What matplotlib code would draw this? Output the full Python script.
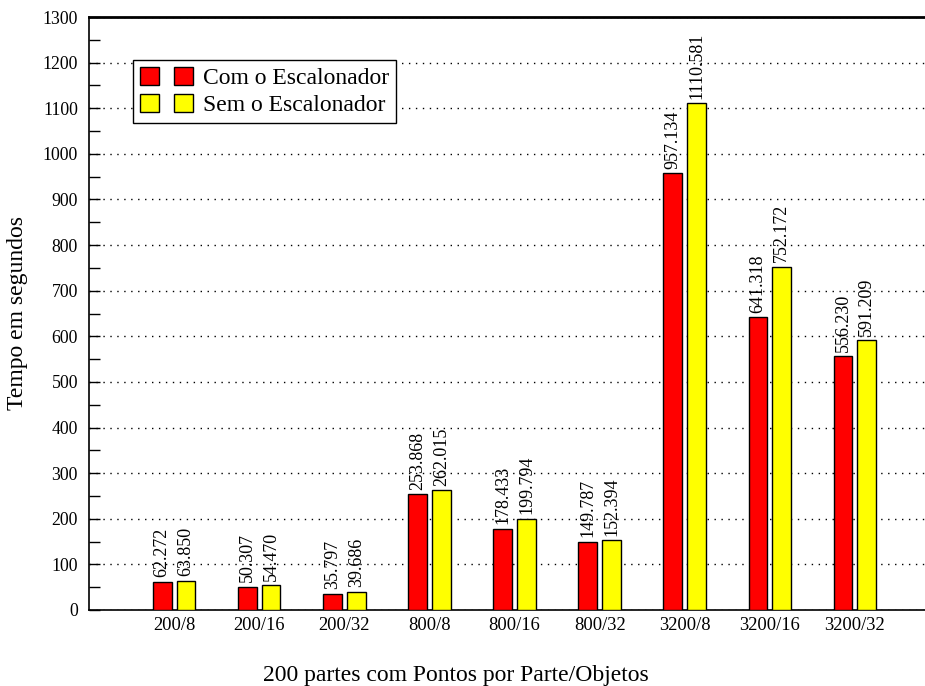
import numpy as np
import matplotlib.pyplot as plt
from matplotlib.patches import Patch
from matplotlib.legend_handler import HandlerTuple

plt.rcParams['font.family'] = ['Liberation Serif', 'DejaVu Serif']

# === Data ===
categorias = ["200/8", "200/16", "200/32", "800/8", "800/16", "800/32",
              "3200/8", "3200/16", "3200/32"]
com_escalonador = [62.272, 50.307, 35.797, 253.868, 178.433, 149.787,
                   957.134, 641.318, 556.230]
sem_escalonador = [63.850, 54.470, 39.686, 262.015, 199.794, 152.394,
                   1110.581, 752.172, 591.209]

# === Figure ===
fig = plt.figure(figsize=(9.25, 6.86), dpi=100)
# axes runs slightly past the right edge of the image
ax = fig.add_axes([89 / 925, (686 - 610) / 686, (940 - 89) / 925, (610 - 17) / 686])

x = np.arange(1, len(categorias) + 1)
w = 0.22
ax.bar(x - 0.14, com_escalonador, w, color="red", edgecolor="black", linewidth=1, zorder=3)
ax.bar(x + 0.14, sem_escalonador, w, color="yellow", edgecolor="black", linewidth=1, zorder=3)

for xi, a, b in zip(x, com_escalonador, sem_escalonador):
    ax.text(xi - 0.14, a + 10, f"{a:.3f}", rotation=90, ha="center", va="bottom", fontsize=13)
    ax.text(xi + 0.14, b + 10, f"{b:.3f}", rotation=90, ha="center", va="bottom", fontsize=13)

ax.set_xlim(0, 10)
ax.set_ylim(0, 1300)
ax.set_xticks(x)
ax.set_xticklabels(categorias, fontsize=13.3)
ax.set_yticks(np.arange(0, 1301, 100))
ax.set_yticks(np.arange(50, 1300, 100), minor=True)
ax.tick_params(axis="y", which="both", direction="in", length=8, width=1, labelsize=12.8, pad=8)
ax.tick_params(axis="x", length=0, pad=5)
ax.grid(axis="y", linestyle=(0, (1, 4)), color="black", linewidth=1, zorder=0)

for side in ["left", "bottom"]:
    ax.spines[side].set_linewidth(1.2)
ax.spines["top"].set_linewidth(2)
ax.spines["right"].set_visible(False)

ax.set_ylabel("Tempo em segundos", fontsize=17, va="center")
ax.yaxis.set_label_coords((18 - 89) / 851, 0.5)
fig.text(456 / 925, 1 - 676 / 686, "200 partes com Pontos por Parte/Objetos",
         ha="center", va="center", fontsize=17)

# === Legend (two boxes per entry) ===
h1 = (Patch(facecolor="red", edgecolor="black"), Patch(facecolor="red", edgecolor="black"))
h2 = (Patch(facecolor="yellow", edgecolor="black"), Patch(facecolor="yellow", edgecolor="black"))
leg = ax.legend([h1, h2], ["Com o Escalonador", "Sem o Escalonador"],
                handler_map={tuple: HandlerTuple(ndivide=None, pad=0.64)},
                loc="upper left", bbox_to_anchor=((133 - 89) / 851, (610 - 60) / 593),
                bbox_transform=ax.transAxes, fontsize=17, fancybox=False,
                framealpha=1, edgecolor="black", handlelength=2.25, handleheight=0.8,
                handletextpad=0.42, borderpad=0.3, labelspacing=0.2, borderaxespad=0)
leg.get_frame().set_linewidth(1)

plt.savefig("out.png", dpi=100)
